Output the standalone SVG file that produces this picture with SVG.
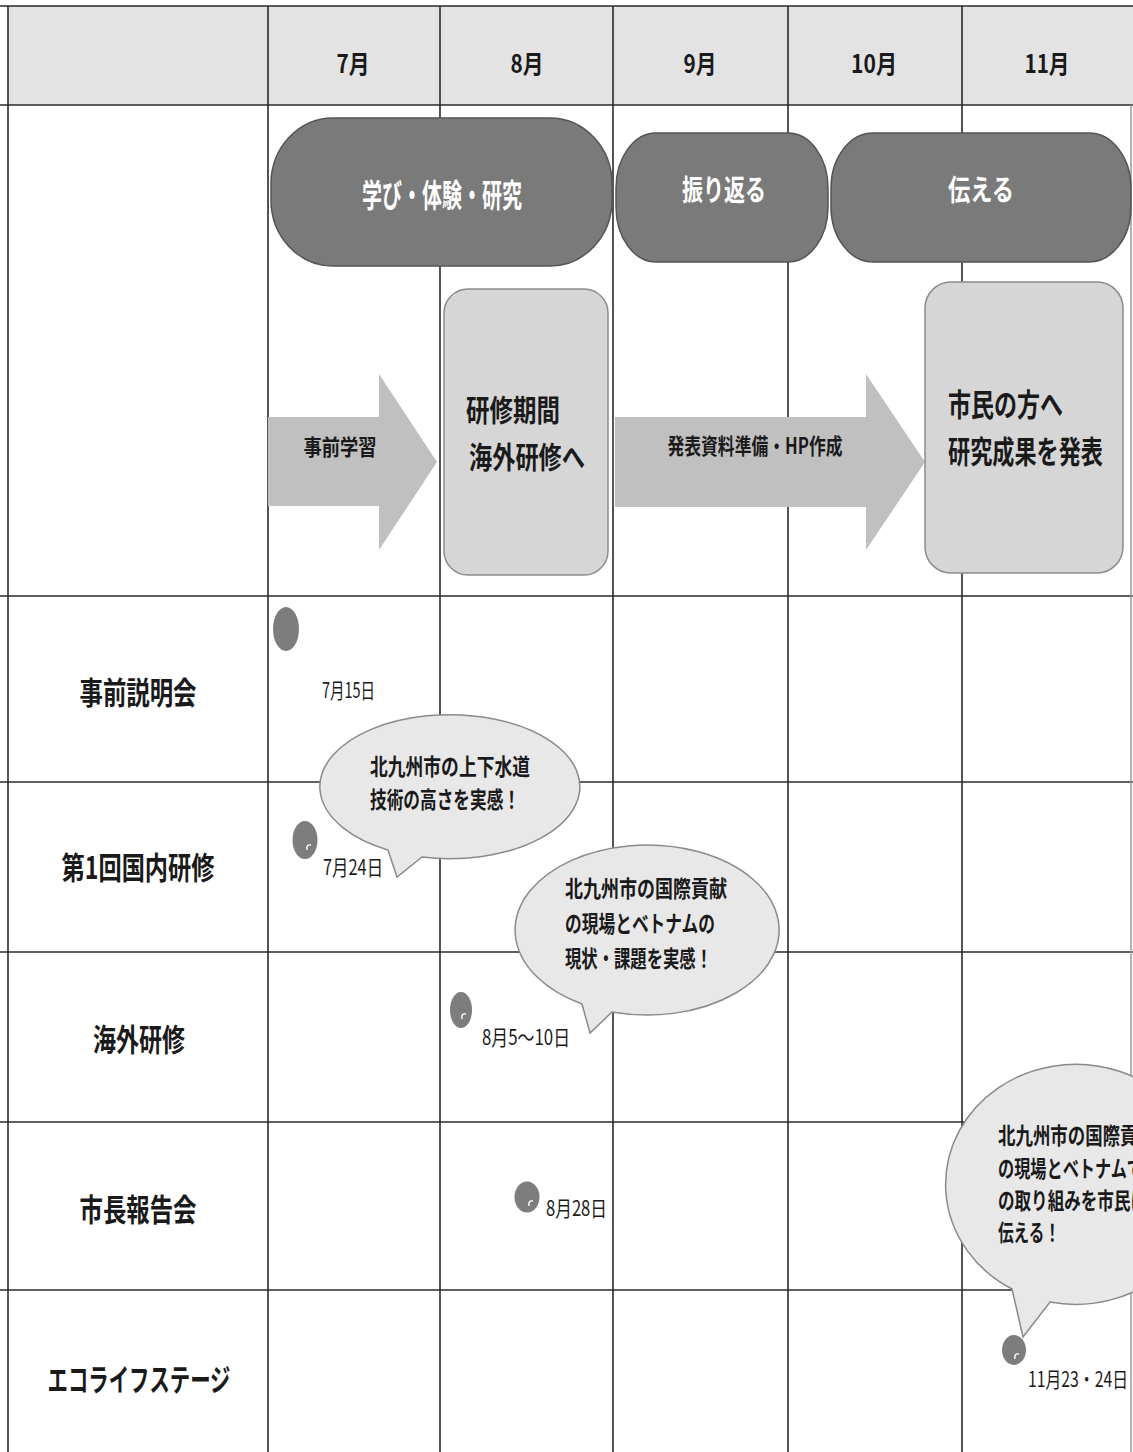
<svg xmlns="http://www.w3.org/2000/svg" width="1133" height="1452" viewBox="0 0 1133 1452">
<style>
  .t { font-family: "Noto Sans CJK JP", "Noto Sans CJK SC", sans-serif; fill: #1a1a1a; }
  .b { font-weight: bold; }
  .w { fill: #ffffff; }
  .gl { stroke: #2a2a2a; stroke-width: 1.6; fill: none; }
  .pill { fill: #7a7a7a; stroke: #555555; stroke-width: 1.5; }
  .box { fill: #d6d6d6; stroke: #8c8c8c; stroke-width: 1.5; }
  .arr { fill: #c0c0c0; }
  .dot { fill: #7d7d7d; }
  .mark { stroke: #ffffff; stroke-width: 1.4; fill: none; }
  .bub { fill: #e8e8e8; stroke: #8a8a8a; stroke-width: 1.5; }
</style>
<rect x="0" y="0" width="1133" height="1452" fill="#ffffff"/>
<g id="header">
  <rect x="8" y="6" width="1125" height="99" fill="#e3e3e3"/>
  <text class="t b" x="353" y="73" font-size="25" text-anchor="middle" textLength="33" lengthAdjust="spacingAndGlyphs">7月</text>
  <text class="t b" x="527" y="73" font-size="25" text-anchor="middle" textLength="33" lengthAdjust="spacingAndGlyphs">8月</text>
  <text class="t b" x="700" y="73" font-size="25" text-anchor="middle" textLength="33" lengthAdjust="spacingAndGlyphs">9月</text>
  <text class="t b" x="874" y="73" font-size="25" text-anchor="middle" textLength="46" lengthAdjust="spacingAndGlyphs">10月</text>
  <text class="t b" x="1047" y="73" font-size="25" text-anchor="middle" textLength="45" lengthAdjust="spacingAndGlyphs">11月</text>
</g>
<g id="grid">
  <line class="gl" x1="0" y1="6" x2="1133" y2="6" stroke-width="2"/>
  <line class="gl" x1="0" y1="105" x2="1133" y2="105" stroke-width="2"/>
  <line class="gl" x1="0" y1="596" x2="1133" y2="596"/>
  <line class="gl" x1="0" y1="782" x2="1133" y2="782"/>
  <line class="gl" x1="0" y1="952" x2="1133" y2="952"/>
  <line class="gl" x1="0" y1="1122" x2="1133" y2="1122"/>
  <line class="gl" x1="0" y1="1290" x2="1133" y2="1290"/>
  <line class="gl" x1="8" y1="6" x2="8" y2="1452"/>
  <line class="gl" x1="268" y1="6" x2="268" y2="1452"/>
  <line class="gl" x1="440" y1="6" x2="440" y2="1452"/>
  <line class="gl" x1="613" y1="6" x2="613" y2="1452"/>
  <line class="gl" x1="788" y1="6" x2="788" y2="1452"/>
  <line class="gl" x1="962" y1="6" x2="962" y2="1452"/>
  <line x1="1131" y1="105" x2="1131" y2="1452" stroke="#9a9a9a" stroke-width="1.5"/>
</g>
<g id="row-labels">
  <text class="t b" x="138" y="704" font-size="31" text-anchor="middle" textLength="117" lengthAdjust="spacingAndGlyphs">事前説明会</text>
  <text class="t b" x="138" y="879" font-size="31" text-anchor="middle" textLength="153" lengthAdjust="spacingAndGlyphs">第1回国内研修</text>
  <text class="t b" x="139" y="1051" font-size="31" text-anchor="middle" textLength="92" lengthAdjust="spacingAndGlyphs">海外研修</text>
  <text class="t b" x="138" y="1221" font-size="31" text-anchor="middle" textLength="117" lengthAdjust="spacingAndGlyphs">市長報告会</text>
  <text class="t b" x="139" y="1391" font-size="31" text-anchor="middle" textLength="183" lengthAdjust="spacingAndGlyphs">エコライフステージ</text>
</g>
<g id="arrow-prep">
  <polygon class="arr" points="268,417 379,417 379,374 437,462 379,550 379,506 268,506"/>
  <text class="t b" x="340" y="455" font-size="22" text-anchor="middle" textLength="73" lengthAdjust="spacingAndGlyphs">事前学習</text>
</g>
<g id="arrow-present">
  <polygon class="arr" points="615,417 866,417 866,374 925,462 866,550 866,507 615,507"/>
  <text class="t b" x="755" y="454" font-size="22" text-anchor="middle" textLength="175" lengthAdjust="spacingAndGlyphs">発表資料準備・HP作成</text>
</g>
<g id="pill-learn">
  <rect class="pill" x="271" y="118" width="341" height="148" rx="62" ry="66"/>
  <text class="t b w" x="442" y="207" font-size="32" text-anchor="middle" textLength="160" lengthAdjust="spacingAndGlyphs">学び・体験・研究</text>
</g>
<g id="pill-reflect">
  <rect class="pill" x="616" y="133" width="212" height="129" rx="40" ry="55"/>
  <text class="t b w" x="724" y="201" font-size="29" text-anchor="middle" textLength="84" lengthAdjust="spacingAndGlyphs">振り返る</text>
</g>
<g id="pill-tell">
  <rect class="pill" x="831" y="133" width="300" height="129" rx="42" ry="55"/>
  <text class="t b w" x="981" y="201" font-size="29" text-anchor="middle" textLength="66" lengthAdjust="spacingAndGlyphs">伝える</text>
</g>
<g id="box-training">
  <rect class="box" x="444" y="289" width="164" height="286" rx="24"/>
  <text class="t b" x="466" y="421" font-size="30" textLength="94" lengthAdjust="spacingAndGlyphs">研修期間</text>
  <text class="t b" x="469" y="468" font-size="30" textLength="116" lengthAdjust="spacingAndGlyphs">海外研修へ</text>
</g>
<g id="box-present">
  <rect class="box" x="925" y="282" width="198" height="291" rx="26"/>
  <text class="t b" x="948" y="416" font-size="31" textLength="115" lengthAdjust="spacingAndGlyphs">市民の方へ</text>
  <text class="t b" x="948" y="463" font-size="31" textLength="155" lengthAdjust="spacingAndGlyphs">研究成果を発表</text>
</g>
<g id="event-briefing">
  <ellipse class="dot" cx="286" cy="629" rx="13" ry="22"/>
  <text class="t" x="322" y="698" font-size="21" textLength="53" lengthAdjust="spacingAndGlyphs">7月15日</text>
</g>
<g id="bubble-1">
  <path class="bub" d="M388,850 L397,877 L422,857 A130,72 0 1 0 388,850 Z"/>
  <text class="t b" x="370" y="775" font-size="23" textLength="160" lengthAdjust="spacingAndGlyphs">北九州市の上下水道</text>
  <text class="t b" x="370" y="808" font-size="23" textLength="150" lengthAdjust="spacingAndGlyphs">技術の高さを実感！</text>
</g>
<g id="event-domestic">
  <ellipse class="dot" cx="305" cy="840" rx="12.5" ry="19"/>
  <path class="mark" d="M311,845 q-5,-1 -4,5"/>
  <text class="t" x="323" y="875" font-size="21" textLength="60" lengthAdjust="spacingAndGlyphs">7月24日</text>
</g>
<g id="bubble-2">
  <path class="bub" d="M582,1004 L590,1033 L612,1012 A132,85 0 1 0 582,1004 Z"/>
  <text class="t b" x="565" y="897" font-size="23" textLength="162" lengthAdjust="spacingAndGlyphs">北九州市の国際貢献</text>
  <text class="t b" x="565" y="932" font-size="23" textLength="150" lengthAdjust="spacingAndGlyphs">の現場とベトナムの</text>
  <text class="t b" x="565" y="967" font-size="23" textLength="147" lengthAdjust="spacingAndGlyphs">現状・課題を実感！</text>
</g>
<g id="event-overseas">
  <ellipse class="dot" cx="461" cy="1010" rx="11" ry="18"/>
  <path class="mark" d="M466,1014 q-5,-1 -4,5"/>
  <text class="t" x="482" y="1045" font-size="21" textLength="88" lengthAdjust="spacingAndGlyphs">8月5～10日</text>
</g>
<g id="event-mayor">
  <ellipse class="dot" cx="527" cy="1197" rx="12.5" ry="15.5"/>
  <path class="mark" d="M533,1201 q-5,-1 -4,5"/>
  <text class="t" x="546" y="1216" font-size="21" textLength="61" lengthAdjust="spacingAndGlyphs">8月28日</text>
</g>
<g id="bubble-3">
  <path class="bub" d="M1012,1289 L1023,1337 L1050,1302 A130,120 0 1 0 1012,1289 Z" transform="translate(0,0)"/>
  <text class="t b" x="998" y="1144" font-size="23" textLength="157" lengthAdjust="spacingAndGlyphs">北九州市の国際貢献</text>
  <text class="t b" x="998" y="1177" font-size="23" textLength="145" lengthAdjust="spacingAndGlyphs">の現場とベトナムで</text>
  <text class="t b" x="998" y="1209" font-size="23" textLength="149" lengthAdjust="spacingAndGlyphs">の取り組みを市民に</text>
  <text class="t b" x="998" y="1241" font-size="23" textLength="62" lengthAdjust="spacingAndGlyphs">伝える！</text>
</g>
<g id="event-ecolife">
  <ellipse class="dot" cx="1014" cy="1350" rx="12" ry="15"/>
  <path class="mark" d="M1019,1354 q-5,-1 -4,5"/>
  <text class="t" x="1028" y="1387" font-size="21" textLength="100" lengthAdjust="spacingAndGlyphs">11月23・24日</text>
</g>
</svg>
